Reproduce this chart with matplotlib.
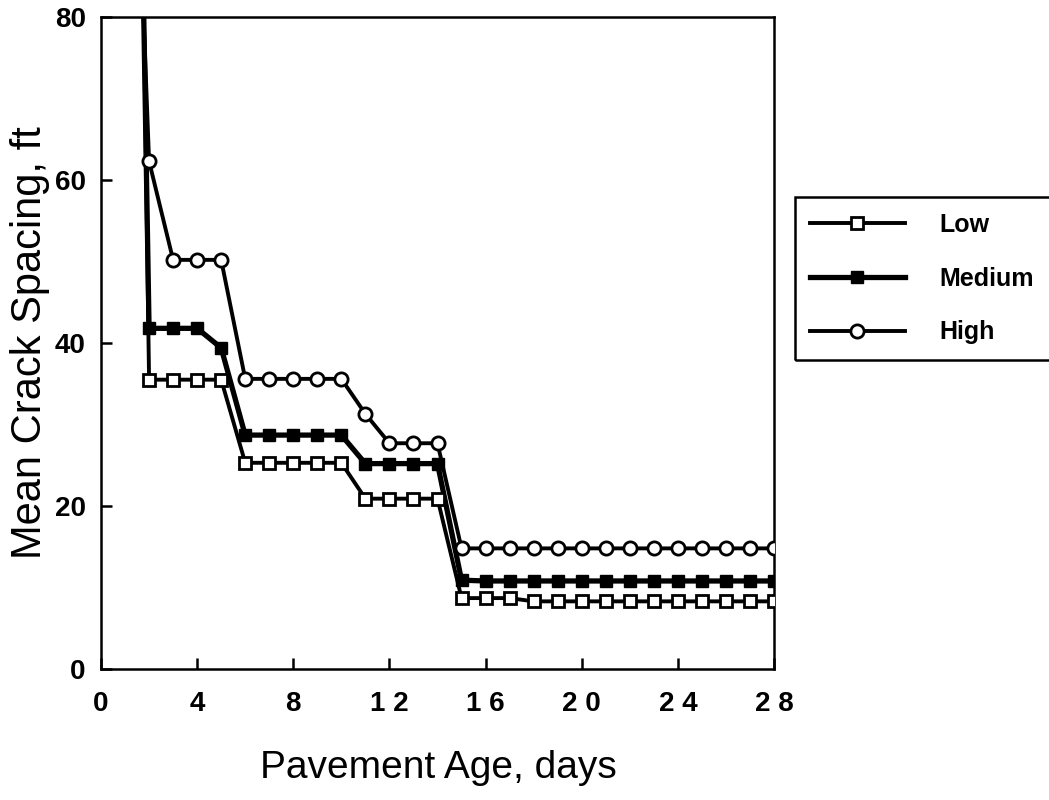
import matplotlib
matplotlib.use('Agg')
import matplotlib.pyplot as plt
from matplotlib.patches import Rectangle

# pavement age (days) and mean crack spacing (ft) per curing level
# day 1 values are off the top of the chart (lines come down from above)
days = list(range(1, 29))

low = [240, 35.5, 35.5, 35.5, 35.5, 25.3, 25.3, 25.3, 25.3, 25.3,
       20.9, 20.9, 20.9, 20.9, 8.7, 8.7, 8.7, 8.3, 8.3, 8.3,
       8.3, 8.3, 8.3, 8.3, 8.3, 8.3, 8.3, 8.3]
medium = [215, 41.8, 41.8, 41.8, 39.4, 28.7, 28.7, 28.7, 28.7, 28.7,
          25.2, 25.2, 25.2, 25.2, 10.9, 10.8, 10.8, 10.8, 10.8, 10.8,
          10.8, 10.8, 10.8, 10.8, 10.8, 10.8, 10.8, 10.8]
high = [140, 62.3, 50.2, 50.2, 50.2, 35.6, 35.6, 35.6, 35.6, 35.6,
        31.3, 27.7, 27.7, 27.7, 14.8, 14.8, 14.8, 14.8, 14.8, 14.8,
        14.8, 14.8, 14.8, 14.8, 14.8, 14.8, 14.8, 14.8]

xticks = [0, 4, 8, 12, 16, 20, 24, 28]
xtick_labels = ['0', '4', '8', '1 2', '1 6', '2 0', '2 4', '2 8']
yticks = [0, 20, 40, 60, 80]

plt.rcParams['font.family'] = ['Liberation Sans', 'DejaVu Sans']

fig = plt.figure(figsize=(10.49, 8), dpi=100)
ax = fig.add_axes([101/1049, 1-669/800, (774-101)/1049, (669-17)/800])

ax.plot(days, low, color='black', linewidth=2.8, marker='s', markersize=9,
        markerfacecolor='white', markeredgecolor='black', markeredgewidth=2,
        label='Low', zorder=3)
ax.plot(days, medium, color='black', linewidth=3.8, marker='s', markersize=9,
        markerfacecolor='black', markeredgecolor='black',
        label='Medium', zorder=2)
ax.plot(days, high, color='black', linewidth=2.8, marker='o', markersize=9.5,
        markerfacecolor='white', markeredgecolor='black', markeredgewidth=2,
        label='High', zorder=3)

ax.set_xlim(0, 28)
ax.set_ylim(0, 80)
ax.set_xticks(xticks)
ax.set_xticklabels(xtick_labels)
ax.set_yticks(yticks)

ax.tick_params(direction='in', length=8, width=1.8, labelsize=20, pad=16)
ax.tick_params(axis='y', pad=11)
for lab in ax.get_xticklabels() + ax.get_yticklabels():
    lab.set_fontweight('bold')
for sp in ax.spines.values():
    sp.set_linewidth(1.8)

fig.text(30/1049, 1-343/800, 'Mean Crack Spacing, ft', rotation=90,
         ha='center', va='center', fontsize=30)
fig.text(438/1049, 1-768/800, 'Pavement Age, days',
         ha='center', va='center', fontsize=28)

leg = fig.legend(loc='upper left', bbox_to_anchor=(797/1049, 1-200/800),
                 fontsize=18, handlelength=3.8, frameon=False,
                 borderpad=0.5, labelspacing=1.2, handletextpad=1.4,
                 borderaxespad=0)
for t in leg.get_texts():
    t.set_fontweight('bold')

# legend box runs past the right edge of the picture
fig.patches.append(Rectangle((795/1049, 1-360/800), 270/1049, 163/800,
                             transform=fig.transFigure, fill=False,
                             edgecolor='black', linewidth=1.8))

fig.savefig('out.png', dpi=100)
